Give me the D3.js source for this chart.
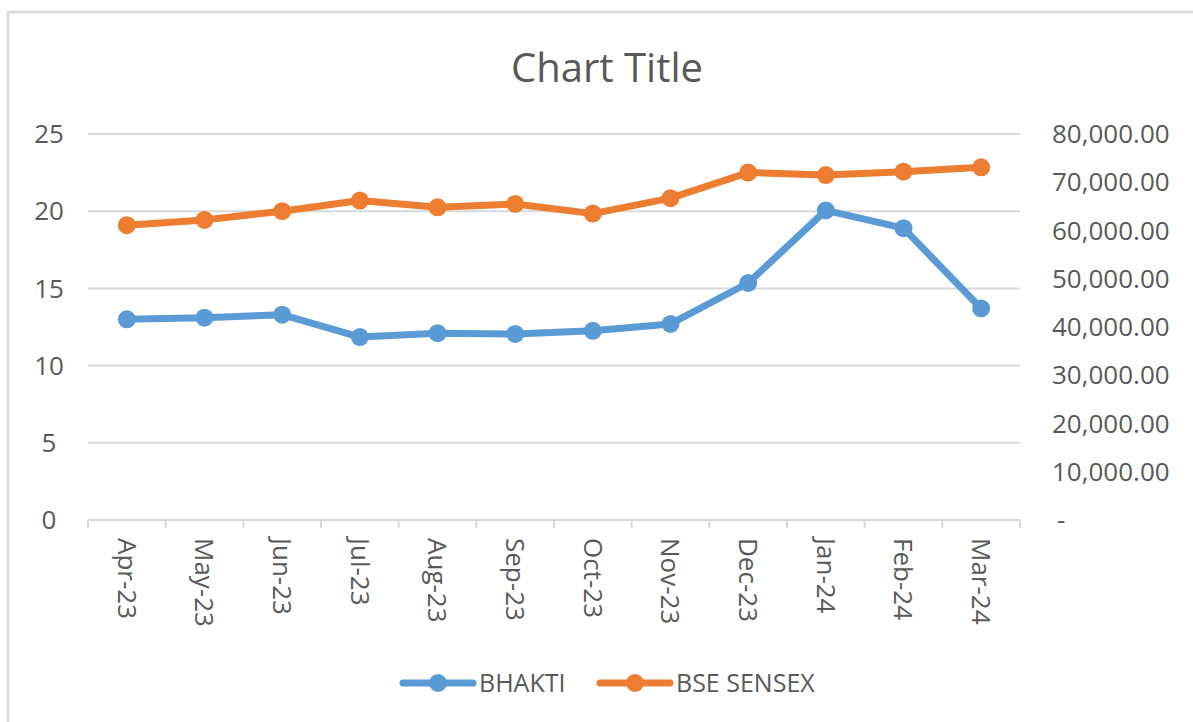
<!DOCTYPE html>
<html lang="en">
<head>
  <meta charset="UTF-8">
  <title>Chart Title</title>
  <script src="https://d3js.org/d3.v7.min.js"></script>
  <style>
    body { margin: 0; background: #fff; }
    text { font-family: "Open Sans", sans-serif; fill: #595959; }
  </style>
</head>
<body>
<div class="canvas"></div>
<script>
  const months = ['Apr-23', 'May-23', 'Jun-23', 'Jul-23', 'Aug-23', 'Sep-23',
                  'Oct-23', 'Nov-23', 'Dec-23', 'Jan-24', 'Feb-24', 'Mar-24'];
  const bhakti = [13.0, 13.1, 13.3, 11.85, 12.1, 12.05, 12.25, 12.7, 15.35, 20.05, 18.9, 13.7];
  const sensex = [61100, 62200, 64000, 66200, 64800, 65500, 63500, 66700, 72000, 71500, 72200, 73100];
  const leftTicks = [0, 5, 10, 15, 20, 25];
  const rightTicks = [0, 10000, 20000, 30000, 40000, 50000, 60000, 70000, 80000];
  const seriesNames = ['BHAKTI', 'BSE SENSEX'];
  const colors = ['#5b9bd5', '#ed7d31'];

  const W = 1193, H = 722;
  const plot = { left: 88, right: 1020, top: 134, bottom: 520 };

  const svg = d3.select('.canvas')
    .append('svg')
    .attr('width', W)
    .attr('height', H)

  // outer frame (right/bottom edges fall outside the picture)
  svg.append('rect')
    .attr('x', 8).attr('y', 12)
    .attr('width', 1300).attr('height', 800)
    .attr('fill', 'none')
    .attr('stroke', '#d9d9d9')
    .attr('stroke-width', 2.5)

  svg.append('text')
    .attr('x', 607).attr('y', 82)
    .attr('text-anchor', 'middle')
    .style('font-size', '40px')
    .text('Chart Title')

  const x = d3.scaleBand().domain(months).range([plot.left, plot.right]).padding(0)
  const cx = d => x(d) + x.bandwidth() / 2
  const yL = d3.scaleLinear().domain([0, 25]).range([plot.bottom, plot.top])
  const yR = d3.scaleLinear().domain([0, 80000]).range([plot.bottom, plot.top])

  // gridlines
  svg.append('g')
    .selectAll('line')
    .data(leftTicks.filter(d => d > 0))
    .enter()
    .append('line')
    .attr('x1', plot.left).attr('x2', plot.right)
    .attr('y1', d => yL(d)).attr('y2', d => yL(d))
    .attr('stroke', '#d9d9d9')
    .attr('stroke-width', 2)

  // x axis line and tick marks between categories
  const xAxis = svg.append('g')
  xAxis.append('line')
    .attr('x1', plot.left).attr('x2', plot.right)
    .attr('y1', plot.bottom).attr('y2', plot.bottom)
    .attr('stroke', '#d9d9d9').attr('stroke-width', 2)
  xAxis.selectAll('.tk')
    .data(months.concat(['end']))
    .enter()
    .append('line')
    .attr('class', 'tk')
    .attr('x1', d => d === 'end' ? plot.right : x(d))
    .attr('x2', d => d === 'end' ? plot.right : x(d))
    .attr('y1', plot.bottom).attr('y2', plot.bottom + 8)
    .attr('stroke', '#d9d9d9').attr('stroke-width', 2)
  xAxis.selectAll('.lbl')
    .data(months)
    .enter()
    .append('text')
    .attr('class', 'lbl')
    .attr('transform', d => `translate(${cx(d)}, 538) rotate(90)`)
    .attr('dy', '0.35em')
    .style('font-size', '26px')
    .text(d => d)

  // left axis labels
  svg.append('g')
    .selectAll('text')
    .data(leftTicks)
    .enter()
    .append('text')
    .attr('x', 49)
    .attr('y', d => yL(d))
    .attr('dy', '0.35em')
    .attr('text-anchor', 'middle')
    .style('font-size', '26px')
    .text(d => d)

  // right axis labels
  const fmtR = d => d === 0 ? '-' : d3.format(',.2f')(d)
  svg.append('g')
    .selectAll('text')
    .data(rightTicks)
    .enter()
    .append('text')
    .attr('x', d => d === 0 ? 1057 : 1052)
    .attr('y', d => yR(d))
    .attr('dy', '0.35em')
    .style('font-size', '26px')
    .text(fmtR)

  // series
  const series = [
    { name: seriesNames[0], values: bhakti, y: yL, color: colors[0] },
    { name: seriesNames[1], values: sensex, y: yR, color: colors[1] },
  ]
  const line = d3.line()

  series.forEach(s => {
    const pts = months.map((m, i) => [cx(m), s.y(s.values[i])])
    svg.append('path')
      .attr('d', line(pts))
      .attr('fill', 'none')
      .attr('stroke', s.color)
      .attr('stroke-width', 7)
      .attr('stroke-linejoin', 'round')
    svg.append('g')
      .selectAll('circle')
      .data(pts)
      .enter()
      .append('circle')
      .attr('cx', d => d[0]).attr('cy', d => d[1])
      .attr('r', 9)
      .attr('fill', s.color)
  })

  // legend
  const legendX = [403, 600]
  const legend = svg.append('g')
    .selectAll('g')
    .data(series)
    .enter()
    .append('g')
    .attr('transform', (d, i) => `translate(${legendX[i]}, 683)`)
  legend.append('line')
    .attr('x1', 0).attr('x2', 70)
    .attr('stroke', d => d.color)
    .attr('stroke-width', 7)
    .attr('stroke-linecap', 'round')
  legend.append('circle')
    .attr('cx', 35).attr('r', 9)
    .attr('fill', d => d.color)
  legend.append('text')
    .attr('x', 76)
    .attr('dy', '0.35em')
    .style('font-size', '25px')
    .text(d => d.name)
</script>
</body>
</html>
